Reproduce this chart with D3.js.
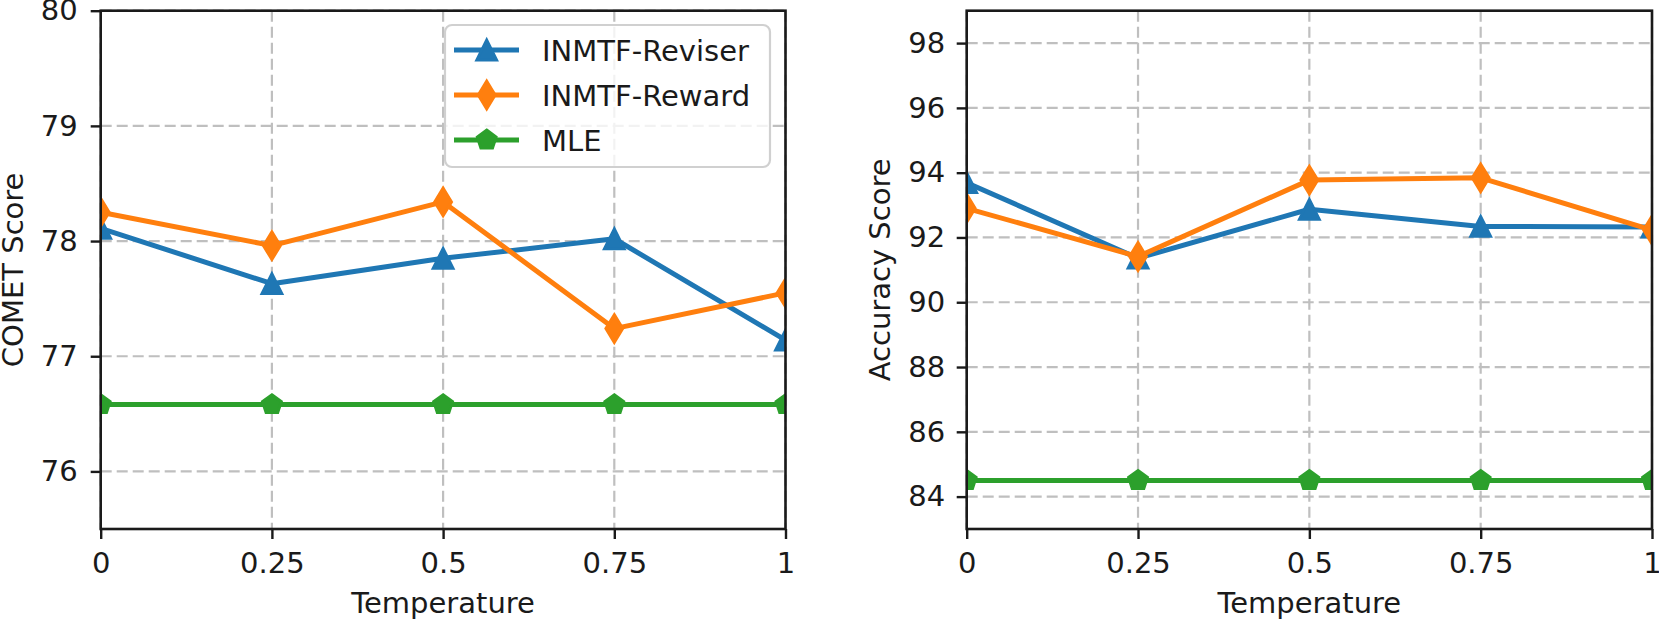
<!DOCTYPE html>
<html>
<head>
<meta charset="utf-8">
<script src="https://cdn.jsdelivr.net/npm/d3@7"></script>
<style>
  body { margin: 0; background: #fff; }
  text { font-family: "DejaVu Sans", sans-serif; fill: #1a1a1a; }
</style>
</head>
<body>
<svg id="chart" width="1659" height="621"></svg>
<script>
// temperatures on the x axis
var temps = [0, 0.25, 0.5, 0.75, 1];
var xTickLabels = ["0", "0.25", "0.5", "0.75", "1"];

// left panel: COMET
var cometReviser = [78.11, 77.63, 77.85, 78.02, 77.14];
var cometReward = [78.25, 77.96, 78.34, 77.24, 77.55];
var cometMLE = [76.58, 76.58, 76.58, 76.58, 76.58];
var cometTicks = [76, 77, 78, 79, 80];

// right panel: accuracy
var accReviser = [93.69, 91.36, 92.87, 92.34, 92.32];
var accReward = [92.90, 91.41, 93.77, 93.84, 92.23];
var accMLE = [84.5, 84.5, 84.5, 84.5, 84.5];
var accTicks = [84, 86, 88, 90, 92, 94, 96, 98];

var seriesNames = ["INMTF-Reviser", "INMTF-Reward", "MLE"];
var colors = ["#1f77b4", "#ff7f0e", "#2ca02c"];
var shapes = ["triangle", "diamond", "pentagon"];

var svg = d3.select("#chart");
var fontSize = 29;

// marker paths, sized like matplotlib ms=7 at this resolution
function markerPath(shape) {
  if (shape === "triangle") return "M0,-10L-10,10L10,10Z";
  if (shape === "diamond") return "M0,-14L8.5,0L0,14L-8.5,0Z";
  // pentagon
  var pts = [];
  for (var i = 0; i < 5; i++) {
    var a = -Math.PI / 2 + i * 2 * Math.PI / 5;
    pts.push([10 * Math.cos(a), 10 * Math.sin(a)]);
  }
  return "M" + pts.map(p => p.join(",")).join("L") + "Z";
}

function drawPanel(opts) {
  var x = d3.scaleLinear().domain([0, 1]).range([opts.left, opts.right]);
  var y = d3.scaleLinear().domain(opts.yDomain).range([529, 10.7]);
  var g = svg.append("g");

  // clip to plot area
  g.append("clipPath").attr("id", opts.id)
    .append("rect")
    .attr("x", opts.left).attr("y", 10.7)
    .attr("width", opts.right - opts.left).attr("height", 529 - 10.7);

  // grid
  var grid = g.append("g")
    .attr("stroke", "#bfbfbf")
    .attr("stroke-width", 2.2)
    .attr("stroke-dasharray", "11,5");
  grid.selectAll(".vg").data(temps).enter().append("line")
    .attr("x1", d => x(d)).attr("x2", d => x(d))
    .attr("y1", 10.7).attr("y2", 529);
  grid.selectAll(".hg").data(opts.yTicks).enter().append("line")
    .attr("x1", opts.left).attr("x2", opts.right)
    .attr("y1", d => y(d)).attr("y2", d => y(d));

  // lines and markers
  var plot = g.append("g").attr("clip-path", "url(#" + opts.id + ")");
  var line = d3.line().x((d, i) => x(temps[i])).y(d => y(d));
  opts.series.forEach(function (vals, k) {
    plot.append("path")
      .attr("d", line(vals))
      .attr("fill", "none")
      .attr("stroke", colors[k])
      .attr("stroke-width", 5)
      .attr("stroke-linejoin", "round");
    plot.selectAll(".m" + k).data(vals).enter().append("path")
      .attr("d", markerPath(shapes[k]))
      .attr("transform", (d, i) => "translate(" + x(temps[i]) + "," + y(d) + ")")
      .attr("fill", colors[k])
      .attr("stroke", colors[k])
      .attr("stroke-width", 2.8)
      .attr("stroke-linejoin", "miter");
  });

  // axes
  var xAxis = d3.axisBottom(x).tickValues(temps)
    .tickFormat((d, i) => xTickLabels[i])
    .tickSize(10).tickSizeOuter(0).tickPadding(13);
  var yAxis = d3.axisLeft(y).tickValues(opts.yTicks)
    .tickFormat(d => String(d))
    .tickSize(10).tickSizeOuter(0).tickPadding(opts.yPad);

  var gx = g.append("g").attr("transform", "translate(0,529)").call(xAxis);
  var gy = g.append("g").attr("transform", "translate(" + opts.left + ",0)").call(yAxis);
  [gx, gy].forEach(function (a) {
    a.select(".domain").remove();
    a.selectAll(".tick line").attr("stroke", "#1a1a1a").attr("stroke-width", 2.4);
    a.selectAll(".tick text").attr("font-size", fontSize)
      .attr("font-family", "DejaVu Sans").attr("fill", "#1a1a1a");
  });

  // spines
  g.append("rect")
    .attr("x", opts.left).attr("y", 10.7)
    .attr("width", opts.right - opts.left).attr("height", 529 - 10.7)
    .attr("fill", "none").attr("stroke", "#1a1a1a").attr("stroke-width", 2.6);

  // axis labels
  g.append("text")
    .attr("x", (opts.left + opts.right) / 2).attr("y", 613)
    .attr("text-anchor", "middle").attr("font-size", fontSize)
    .text("Temperature");
  g.append("text")
    .attr("transform", "translate(" + opts.yLabelX + "," + (529 + 10.7) / 2 + ") rotate(-90)")
    .attr("text-anchor", "middle").attr("font-size", fontSize)
    .text(opts.yLabel);
}

drawPanel({
  id: "clipL", left: 100.7, right: 785.5,
  yDomain: [75.5, 80], yTicks: cometTicks, yPad: 13,
  series: [cometReviser, cometReward, cometMLE],
  yLabel: "COMET Score", yLabelX: 23
});
drawPanel({
  id: "clipR", left: 966.7, right: 1652,
  yDomain: [83, 99], yTicks: accTicks, yPad: 11.5,
  series: [accReviser, accReward, accMLE],
  yLabel: "Accuracy Score", yLabelX: 890
});

// legend in the left panel
var legend = svg.append("g");
legend.append("rect")
  .attr("x", 445).attr("y", 25).attr("width", 325).attr("height", 142)
  .attr("rx", 7).attr("ry", 7)
  .attr("fill", "#fff").attr("fill-opacity", 0.8)
  .attr("stroke", "#d0d0d0").attr("stroke-width", 2.2);
var rows = legend.selectAll(".row").data(seriesNames).enter().append("g")
  .attr("transform", (d, i) => "translate(0," + (50 + i * 45) + ")");
rows.append("line")
  .attr("x1", 454).attr("x2", 519).attr("y1", 0).attr("y2", 0)
  .attr("stroke", (d, i) => colors[i]).attr("stroke-width", 5);
rows.append("path")
  .attr("d", (d, i) => markerPath(shapes[i]))
  .attr("transform", "translate(486.7,0)")
  .attr("fill", (d, i) => colors[i])
  .attr("stroke", (d, i) => colors[i]).attr("stroke-width", 2.8);
rows.append("text")
  .attr("x", 542).attr("y", 10.5)
  .attr("font-size", fontSize)
  .text(d => d);
</script>
</body>
</html>
